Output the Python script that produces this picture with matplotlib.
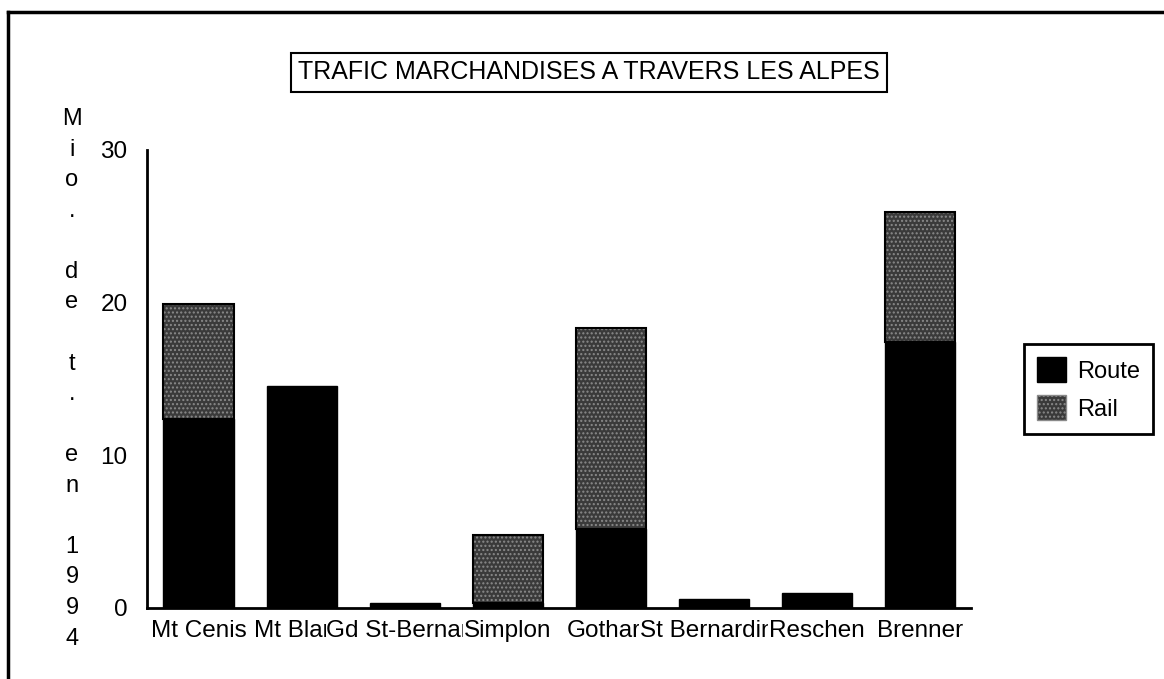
import matplotlib.pyplot as plt
from matplotlib.lines import Line2D
from matplotlib.patches import Patch

plt.rcParams['font.family'] = ['Liberation Sans', 'DejaVu Sans']

# Trafic marchandises a travers les Alpes, 1994 (Mio. de t.)
cols = ['Mt Cenis', 'Mt Blanc', 'Gd St-Bernard', 'Simplon', 'Gothard',
        'St Bernardino', 'Reschen', 'Brenner']
route = [12.4, 14.5, 0.3, 0.3, 5.2, 0.6, 1.0, 17.4]
rail = [7.5, 0.0, 0.05, 4.5, 13.1, 0.0, 0.0, 8.5]
yticks = [0, 10, 20, 30]
ylabel = 'Mio. de t. en 1994'

fig = plt.figure(figsize=(11.64, 6.79), dpi=100)
ax = fig.add_axes([0.1263, 0.1046, 0.708, 0.675])

x = range(len(cols))
w = 0.68
ax.bar(x, route, width=w, color='black', edgecolor='black', linewidth=1)
ax.bar(x, rail, width=w, bottom=route, color='#3a3a3a', edgecolor='#8a8a8a',
       hatch='....', linewidth=0)
# contour noir des barres rail
ax.bar([i for i in x if rail[i] > 0.1], [r for r in rail if r > 0.1], width=w,
       bottom=[route[i] for i in x if rail[i] > 0.1], fill=False,
       edgecolor='black', linewidth=1.5)

ax.set_xlim(-0.5, len(cols) - 0.5)
ax.set_ylim(0, 30)
ax.set_yticks(yticks)
ax.set_xticks(list(x), cols)
ax.tick_params(axis='both', length=0, labelsize=17.5)
ax.tick_params(axis='y', pad=14)
ax.tick_params(axis='x', pad=9)
for t in ax.get_xticklabels():
    t.set_bbox(dict(facecolor='white', edgecolor='none', pad=0.5))

for s in ['top', 'right']:
    ax.spines[s].set_visible(False)
for s in ['left', 'bottom']:
    ax.spines[s].set_linewidth(2)

# libelle vertical, une lettre par ligne
chars = [c if c != ' ' else '' for c in ylabel]
for k, c in enumerate(chars):
    ax.text(-0.091, 32 - 2 * k, c, transform=ax.get_yaxis_transform(),
            ha='center', va='center', fontsize=17, clip_on=False)

fig.text(589 / 1164, 1 - 72 / 679, 'TRAFIC MARCHANDISES A TRAVERS LES ALPES',
         ha='center', va='center', fontsize=18,
         bbox=dict(boxstyle='square,pad=0.3', facecolor='white',
                   edgecolor='black', linewidth=1.5))

handles = [Patch(facecolor='black', edgecolor='black', label='Route'),
           Patch(facecolor='#3a3a3a', edgecolor='#8a8a8a', hatch='....',
                 label='Rail')]
leg = fig.legend(handles=handles, loc='center left',
                 bbox_to_anchor=(1012 / 1164, 1 - 389 / 679), fontsize=17,
                 handlelength=1.25, handleheight=1.25, handletextpad=0.45,
                 fancybox=False, shadow=False, framealpha=1,
                 borderpad=0.55, labelspacing=0.55)
leg.get_frame().set_edgecolor('black')
leg.get_frame().set_linewidth(2)

# cadre de la figure
fig.add_artist(Line2D([8 / 1164, 8 / 1164], [0, 1 - 12 / 679], color='black', lw=2.5))
fig.add_artist(Line2D([8 / 1164, 1], [1 - 12 / 679, 1 - 12 / 679], color='black', lw=2.5))

fig.savefig('out.png', dpi=100)
